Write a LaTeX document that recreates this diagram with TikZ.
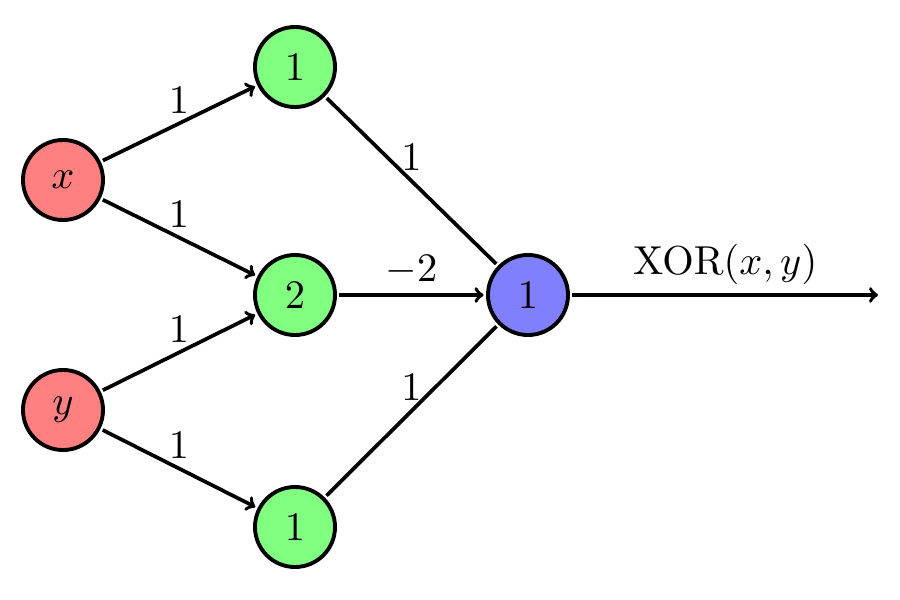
\documentclass[tikz,border=0pt]{standalone}
\usetikzlibrary{positioning}
\tikzset{
    neuron/.style={circle, draw, line width=2.2pt, scale=2.3, minimum size=0.696cm, inner sep=0pt},
    wlabel/.style={midway, above, scale=2.3, inner sep=1.5pt},
}
\begin{document}
\begin{tikzpicture}[line width=2.1pt]
    \useasboundingbox (0,0) rectangle (18,12);
    % inputs
    \node[neuron, fill=red!50] (x) at (1.26,8.4) {$x$};
    \node[neuron, fill=red!50] (y) at (1.26,3.8) {$y$};
    % hidden layer
    \node[neuron, fill=green!50] (h1) at (5.9,10.66) {$1$};
    \node[neuron, fill=green!50] (h2) at (5.9,6.1) {$2$};
    \node[neuron, fill=green!50] (h3) at (5.9,1.46) {$1$};
    % output
    \node[neuron, fill=blue!50] (out) at (10.56,6.1) {$1$};
    \coordinate (end) at (17.56,6.1);
    \draw[->] (x) -- (h1) node[wlabel] {$1$};
    \draw[->] (x) -- (h2) node[wlabel] {$1$};
    \draw[->] (y) -- (h2) node[wlabel] {$1$};
    \draw[->] (y) -- (h3) node[wlabel] {$1$};
    \draw (h1) -- (out) node[wlabel] {$1$};
    \draw[->] (h2) -- (out) node[wlabel] {$-2$};
    \draw (h3) -- (out) node[wlabel] {$1$};
    \draw[->] (out) -- (end) node[wlabel] {$\mathrm{XOR}(x,y)$};
\end{tikzpicture}
\end{document}
